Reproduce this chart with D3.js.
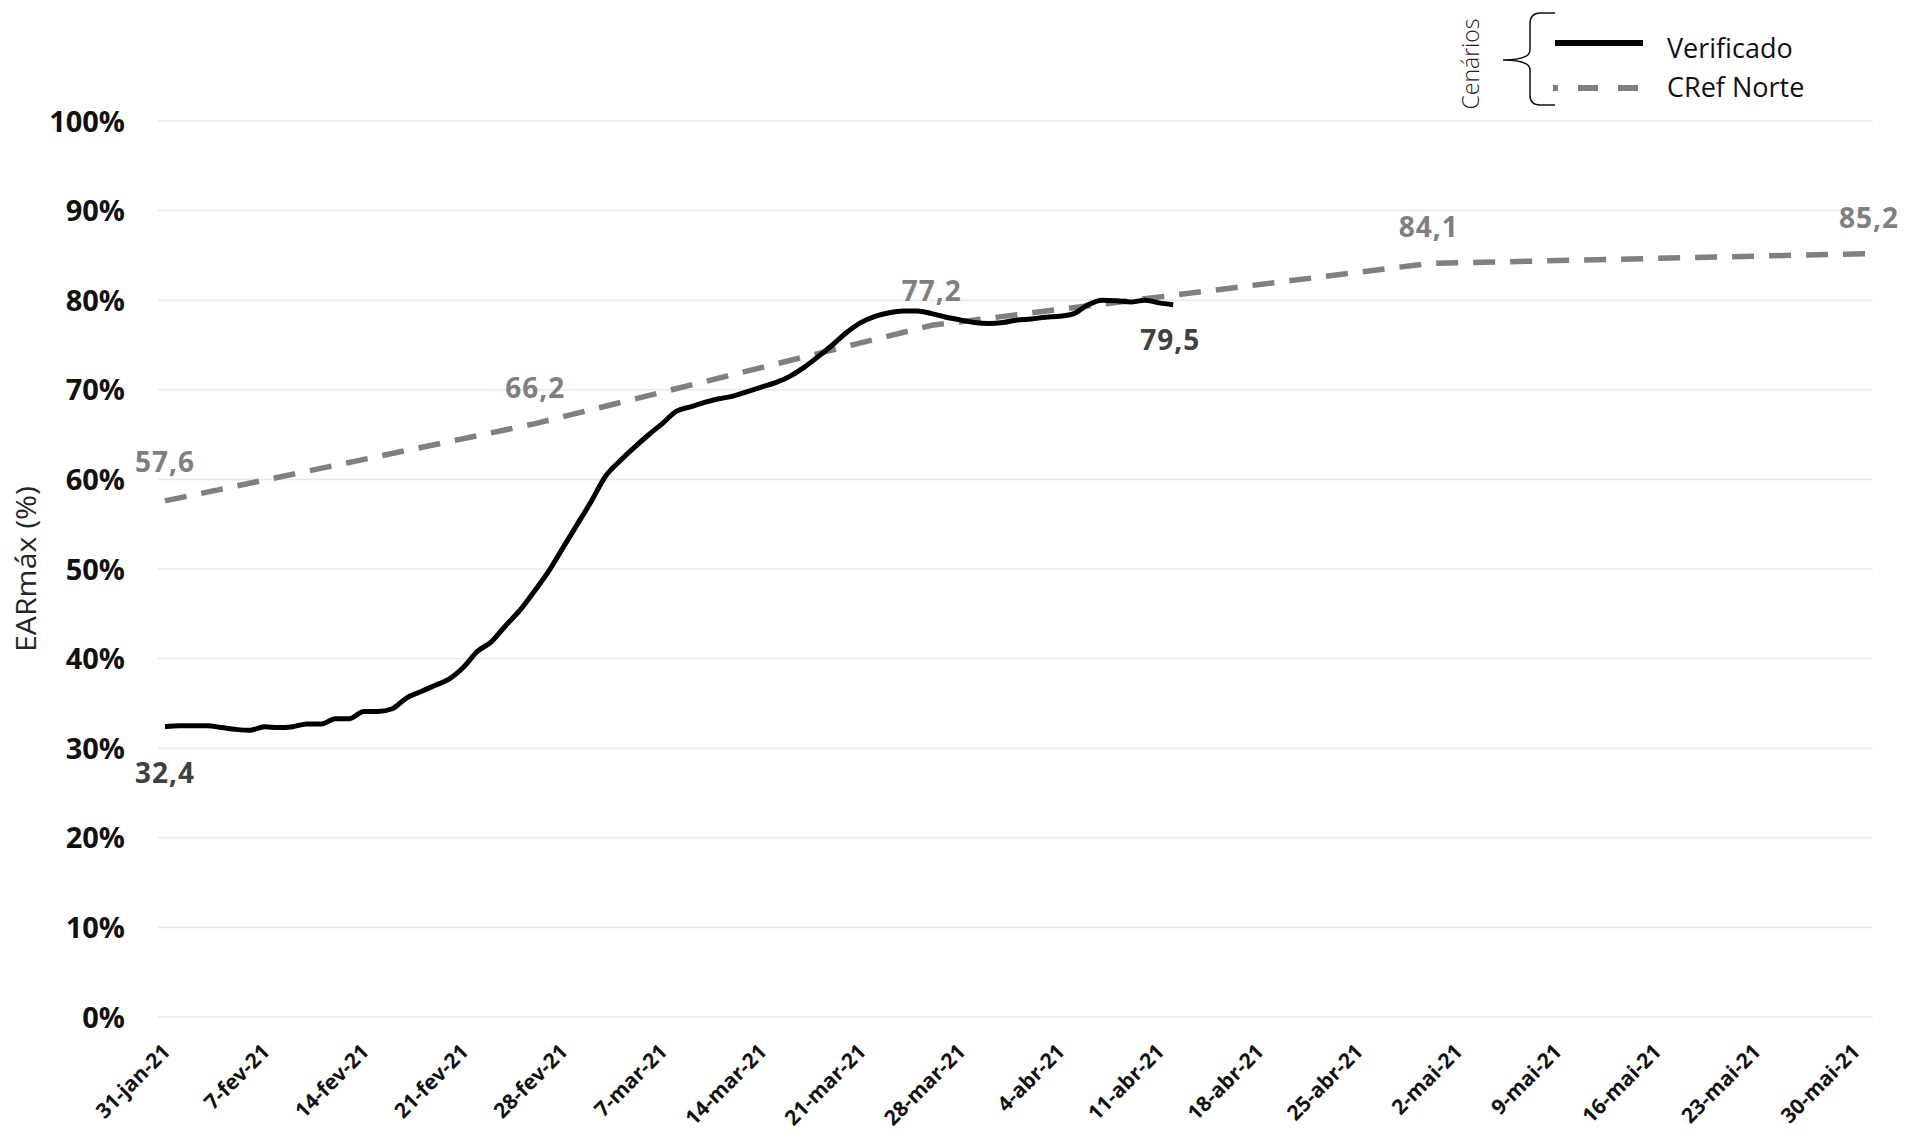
<!DOCTYPE html>
<html>
<head>
<meta charset="utf-8">
<script src="https://cdn.jsdelivr.net/npm/d3@7"></script>
<style>
  html, body { margin: 0; padding: 0; background: #ffffff; }
  svg { display: block; }
  text { font-family: "Open Sans", "Liberation Sans", sans-serif; }
</style>
</head>
<body>
<svg id="chart" width="1907" height="1140"></svg>
<script>
// ---------------- DATA ----------------
const startDate = "2021-01-31";           // first category (daily)
const endDate = "2021-05-31";             // last category
const monthAbbr = ["jan", "fev", "mar", "abr", "mai", "jun", "jul", "ago", "set", "out", "nov", "dez"];
const yTicks = [0, 10, 20, 30, 40, 50, 60, 70, 80, 90, 100];

// Verificado: daily values from 31-jan-21
const verificadoValues = [
  32.4, 32.5, 32.5, 32.5, 32.3, 32.1, 32.0, 32.4, 32.3, 32.4,
  32.7, 32.7, 33.3, 33.3, 34.1, 34.1, 34.4, 35.6, 36.3, 37.0,
  37.7, 39.0, 40.8, 41.9, 43.7, 45.4, 47.5, 49.7, 52.3, 54.9,
  57.5, 60.3, 62.0, 63.5, 64.9, 66.2, 67.6, 68.1, 68.6, 69.0,
  69.3, 69.8, 70.3, 70.8, 71.5, 72.5, 73.7, 75.0, 76.4, 77.5,
  78.2, 78.6, 78.8, 78.8, 78.5, 78.1, 77.8, 77.5, 77.4, 77.5,
  77.8, 77.9, 78.1, 78.2, 78.5, 79.5, 80.0, 79.95, 79.8, 80.0,
  79.7, 79.5
];

// CRef Norte: reference curve points
const crefDates = ["2021-01-31", "2021-02-26", "2021-03-26", "2021-04-30", "2021-05-31"];
const crefValues = [57.6, 66.2, 77.2, 84.1, 85.2];

// Data labels: [series, index]
const verificadoLabelIdx = [0, verificadoValues.length - 1];
const crefLabelIdx = [0, 1, 2, 3, 4];

const legendItems = ["Verificado", "CRef Norte"];
const legendTitle = "Cenários";
const yTitle = "EARmáx (%)";

// ---------------- CHART ----------------
const parse = d3.timeParse("%Y-%m-%d");
const t0 = parse(startDate), t1 = parse(endDate);

const svg = d3.select("#chart");
const plotLeft = 158, plotRight = 1873, plotTop = 121, plotBottom = 1017;

const x = d3.scaleTime().domain([t0, t1]).range([165, 1869]);
const y = d3.scaleLinear().domain([0, 100]).range([plotBottom, plotTop]);

const verificado = verificadoValues.map((v, i) => ({ date: d3.timeDay.offset(t0, i), value: v }));
const cref = crefDates.map((d, i) => ({ date: parse(d), value: crefValues[i] }));

// gridlines
svg.append("g")
  .selectAll("line")
  .data(yTicks)
  .join("line")
  .attr("x1", plotLeft).attr("x2", plotRight)
  .attr("y1", d => y(d)).attr("y2", d => y(d))
  .attr("stroke", "#e9e9e9").attr("stroke-width", 1.5);

// Y axis
const yAxis = svg.append("g")
  .attr("transform", `translate(${plotLeft},0)`)
  .call(d3.axisLeft(y).tickValues(yTicks).tickSize(0).tickPadding(33).tickFormat(d => d + "%"));
yAxis.select(".domain").remove();
yAxis.selectAll("text")
  .attr("font-family", "'Open Sans', sans-serif")
  .attr("font-size", 29).attr("font-weight", 700).attr("fill", "#111")
  .attr("dy", "0.35em");

// X axis
const xTickVals = d3.timeDay.range(t0, d3.timeDay.offset(t1, 1), 1).filter((d, i) => i % 7 === 0);
const fmtTick = d => `${d.getDate()}-${monthAbbr[d.getMonth()]}-${String(d.getFullYear()).slice(2)}`;
const xAxis = svg.append("g")
  .attr("transform", `translate(0,${plotBottom})`)
  .call(d3.axisBottom(x).tickValues(xTickVals).tickSize(0).tickFormat(fmtTick));
xAxis.select(".domain").remove();
xAxis.selectAll("text")
  .attr("font-family", "'Open Sans', sans-serif")
  .attr("font-size", 21).attr("font-weight", 700).attr("fill", "#111")
  .attr("text-anchor", "end")
  .attr("x", 0).attr("y", 0).attr("dy", 0)
  .attr("transform", "translate(6,36) rotate(-45)");

// Y title
svg.append("text")
  .attr("transform", `translate(36,${(plotTop + plotBottom) / 2}) rotate(-90)`)
  .attr("text-anchor", "middle")
  .attr("font-size", 28).attr("fill", "#262626")
  .attr("textLength", 166).attr("lengthAdjust", "spacingAndGlyphs")
  .text(yTitle);

// lines
const lineGen = d3.line().x(d => x(d.date)).y(d => y(d.value));

svg.append("path")
  .datum(cref)
  .attr("d", lineGen.curve(d3.curveLinear))
  .attr("fill", "none")
  .attr("stroke", "#808080").attr("stroke-width", 5.5)
  .attr("stroke-dasharray", "22,15");

svg.append("path")
  .datum(verificado)
  .attr("d", d3.line().x(d => x(d.date)).y(d => y(d.value)).curve(d3.curveMonotoneX))
  .attr("fill", "none")
  .attr("stroke", "#000").attr("stroke-width", 5)
  .attr("stroke-linejoin", "round");

// data labels
const fmtVal = v => v.toFixed(1).replace(".", ",");
const crefLabelOffset = [[0, -29], [1, -26], [0, -24], [0, -26], [0, -26]];
crefLabelIdx.forEach((idx, k) => {
  const d = cref[idx];
  svg.append("text")
    .attr("x", x(d.date) + crefLabelOffset[k][0])
    .attr("y", y(d.value) + crefLabelOffset[k][1])
    .attr("text-anchor", "middle")
    .attr("font-size", 28).attr("font-weight", 700)
    .attr("letter-spacing", 1)
    .attr("fill", "#7f7f7f")
    .text(fmtVal(d.value));
});
const verLabelOffset = [[0, 56], [-3, 45]];
verificadoLabelIdx.forEach((idx, k) => {
  const d = verificado[idx];
  svg.append("text")
    .attr("x", x(d.date) + verLabelOffset[k][0])
    .attr("y", y(d.value) + verLabelOffset[k][1])
    .attr("text-anchor", "middle")
    .attr("font-size", 28).attr("font-weight", 700)
    .attr("letter-spacing", 1)
    .attr("fill", "#404040")
    .text(fmtVal(d.value));
});

// legend
const lg = svg.append("g");
lg.append("text")
  .attr("transform", "translate(1479,64) rotate(-90)")
  .attr("text-anchor", "middle")
  .attr("font-size", 23).attr("font-weight", 300).attr("fill", "#222")
  .text(legendTitle);
lg.append("path")
  .attr("d", "M1555,13 L1540,13 Q1530,13 1530,24 L1530,50 Q1530,60 1503,60 Q1530,60 1530,70 L1530,95 Q1530,105 1540,105 L1555,105")
  .attr("fill", "none").attr("stroke", "#111").attr("stroke-width", 1.5);
lg.append("line")
  .attr("x1", 1555).attr("x2", 1643).attr("y1", 43).attr("y2", 43)
  .attr("stroke", "#000").attr("stroke-width", 6);
lg.append("line")
  .attr("x1", 1553).attr("x2", 1643).attr("y1", 88).attr("y2", 88)
  .attr("stroke", "#808080").attr("stroke-width", 6)
  .attr("stroke-dasharray", "20,20").attr("stroke-dashoffset", 15);
lg.selectAll("text.item")
  .data(legendItems)
  .join("text")
  .attr("class", "item")
  .attr("x", 1667).attr("y", (d, i) => 58 + i * 39)
  .attr("font-size", 27).attr("fill", "#111")
  .text(d => d);
</script>
</body>
</html>
